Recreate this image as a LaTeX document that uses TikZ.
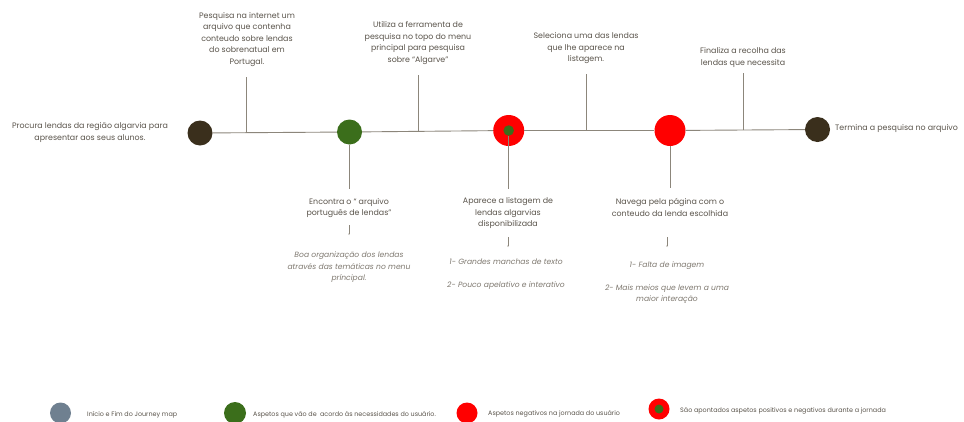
\documentclass[tikz,border=0pt]{standalone}
\usepackage{fontspec}
\setmainfont{Poppins}
\usetikzlibrary{calc,arrows.meta}
\definecolor{dkbrown}{HTML}{3A2F1C}
\definecolor{jgreen}{HTML}{3B6E1B}
\definecolor{jred}{HTML}{FF0000}
\definecolor{jgrey}{HTML}{6F8090}
\definecolor{lncol}{HTML}{8C867B}
\definecolor{txcol}{HTML}{5A544B}
\definecolor{itcol}{HTML}{7F7970}
\tikzset{
  dot/.style={circle,inner sep=0pt,minimum size=#1},
  lbl/.style={text=txcol,align=center,inner sep=0pt,font=\fontsize{7.9}{11.5}\selectfont},
  itl/.style={text=itcol,align=center,inner sep=0pt,font=\fontsize{7.6}{11.5}\selectfont\itshape},
  leg/.style={text=txcol,anchor=west,inner sep=0pt,font=\fontsize{6.4}{8}\selectfont},
  tline/.style={draw=lncol,line width=0.9pt},
  sarrow/.style={draw=lncol,line width=0.35pt,-{Stealth[length=1.5pt,width=1.2pt]}}
}
\begin{document}
\begin{tikzpicture}[x=1pt,y=-1pt]
\useasboundingbox[fill=white] (0,0) rectangle (964,421);
% circles
\node[dot=25,fill=dkbrown] (c1) at (200,133) {};
\node[dot=25,fill=jgreen] (c2) at (349.5,132) {};
\node[dot=31,fill=jred] (c3) at (508.7,130.5) {};
\node[dot=10.5,fill=jgreen] (c3in) at (508.7,130.5) {};
\node[dot=31,fill=jred] (c4) at (670,130.5) {};
\node[dot=25,fill=dkbrown] (c5) at (817.5,129.5) {};
% main line
\draw[tline] (c1) -- (c2);
\draw[tline] (c2) -- (c3);
\draw[tline] (c3) -- (c4);
\draw[tline] (c4) -- (c5);
% up ticks
\coordinate (b1) at ($(c1)!0.314!(c2)$);
\coordinate (b2) at ($(c2)!0.43!(c3)$);
\coordinate (b3) at ($(c3)!0.48!(c4)$);
\coordinate (b4) at ($(c4)!0.495!(c5)$);
\coordinate (u1) at (b1 |- 0,77);
\coordinate (u2) at (b2 |- 0,75);
\coordinate (u3) at (b3 |- 0,74);
\coordinate (u4) at (b4 |- 0,73);
\draw[tline] (b1) -- (u1);
\draw[tline] (b2) -- (u2);
\draw[tline] (b3) -- (u3);
\draw[tline] (b4) -- (u4);
% down ticks
\coordinate (d2) at (c2 |- 0,189);
\coordinate (d3) at (c3 |- 0,189);
\coordinate (d4) at (c4 |- 0,188);
\draw[tline] (c2) -- (d2);
\draw[tline] (c3in) -- (d3);
\draw[tline] (c4) -- (d4);
% top texts
\node[lbl] (t1) at (247,39.5) {Pesquisa na internet um\\arquivo que contenha\\conteudo sobre lendas\\do sobrenatual em\\Portugal.};
\node[lbl] (t2) at (418,43) {Utiliza a ferramenta de\\pesquisa no topo do menu\\principal para pesquisa\\sobre “Algarve”};
\node[lbl] (t3) at (586,48.5) {Seleciona uma das lendas\\que lhe aparece na\\listagem.};
\node[lbl] (t4) at (743,57.5) {Finaliza a recolha das\\lendas que necessita};
\node[lbl] (tl) at (90,132.5) {Procura lendas da região algarvia para\\apresentar aos seus alunos.};
\node[lbl,anchor=west] (tr) at (835,128.5) {Termina a pesquisa no arquivo};
% bottom texts
\node[lbl] (e2) at (349,208) {Encontra o “ arquivo\\português de lendas”};
\node[lbl] (e3) at (508,213.5) {Aparece a listagem de\\lendas algarvias\\disponibilizada};
\node[lbl] (e4) at (670,207.5) {Navega pela página com o\\conteudo da lenda escolhida};
% small arrows
\coordinate (a2s) at (349,225); \coordinate (a2e) at (349,235);
\coordinate (a3s) at (508,237); \coordinate (a3e) at (508,247);
\coordinate (a4s) at (667,237); \coordinate (a4e) at (667,247);
\draw[sarrow] (a2s) -- (a2e);
\draw[sarrow] (a3s) -- (a3e);
\draw[sarrow] (a4s) -- (a4e);
% italic notes
\node[itl] (n2) at (349,267.5) {Boa organização dos lendas\\através das temáticas no menu\\príncipal.};
\node[itl] (n3a) at (506,262) {1- Grandes manchas de texto};
\node[itl] (n3b) at (506,286) {2- Pouco apelativo e interativo};
\node[itl] (n4a) at (667,266) {1- Falta de imagem};
\node[itl] (n4b) at (667,294) {2- Mais meios que levem a uma\\maior interação};
% legend
\node[dot=21,fill=jgrey] (l1) at (60.5,413) {};
\node[leg] (lt1) at (87,414.5) {Início e Fim do Journey map};
\node[dot=22,fill=jgreen] (l2) at (235,413) {};
\node[leg] (lt2) at (253,414.5) {Aspetos que vão de \ acordo às necessidades do usuário.};
\node[dot=21,fill=jred] (l3) at (467,413) {};
\node[leg] (lt3) at (488,414) {Aspetos negativos na jornada do usuário};
\node[dot=21,fill=jred] (l4) at (659,409) {};
\node[dot=9,fill=jgreen] (l4in) at (659,409) {};
\node[leg] (lt4) at (680,411) {São apontados aspetos positivos e negativos durante a jornada};
\end{tikzpicture}
\end{document}
